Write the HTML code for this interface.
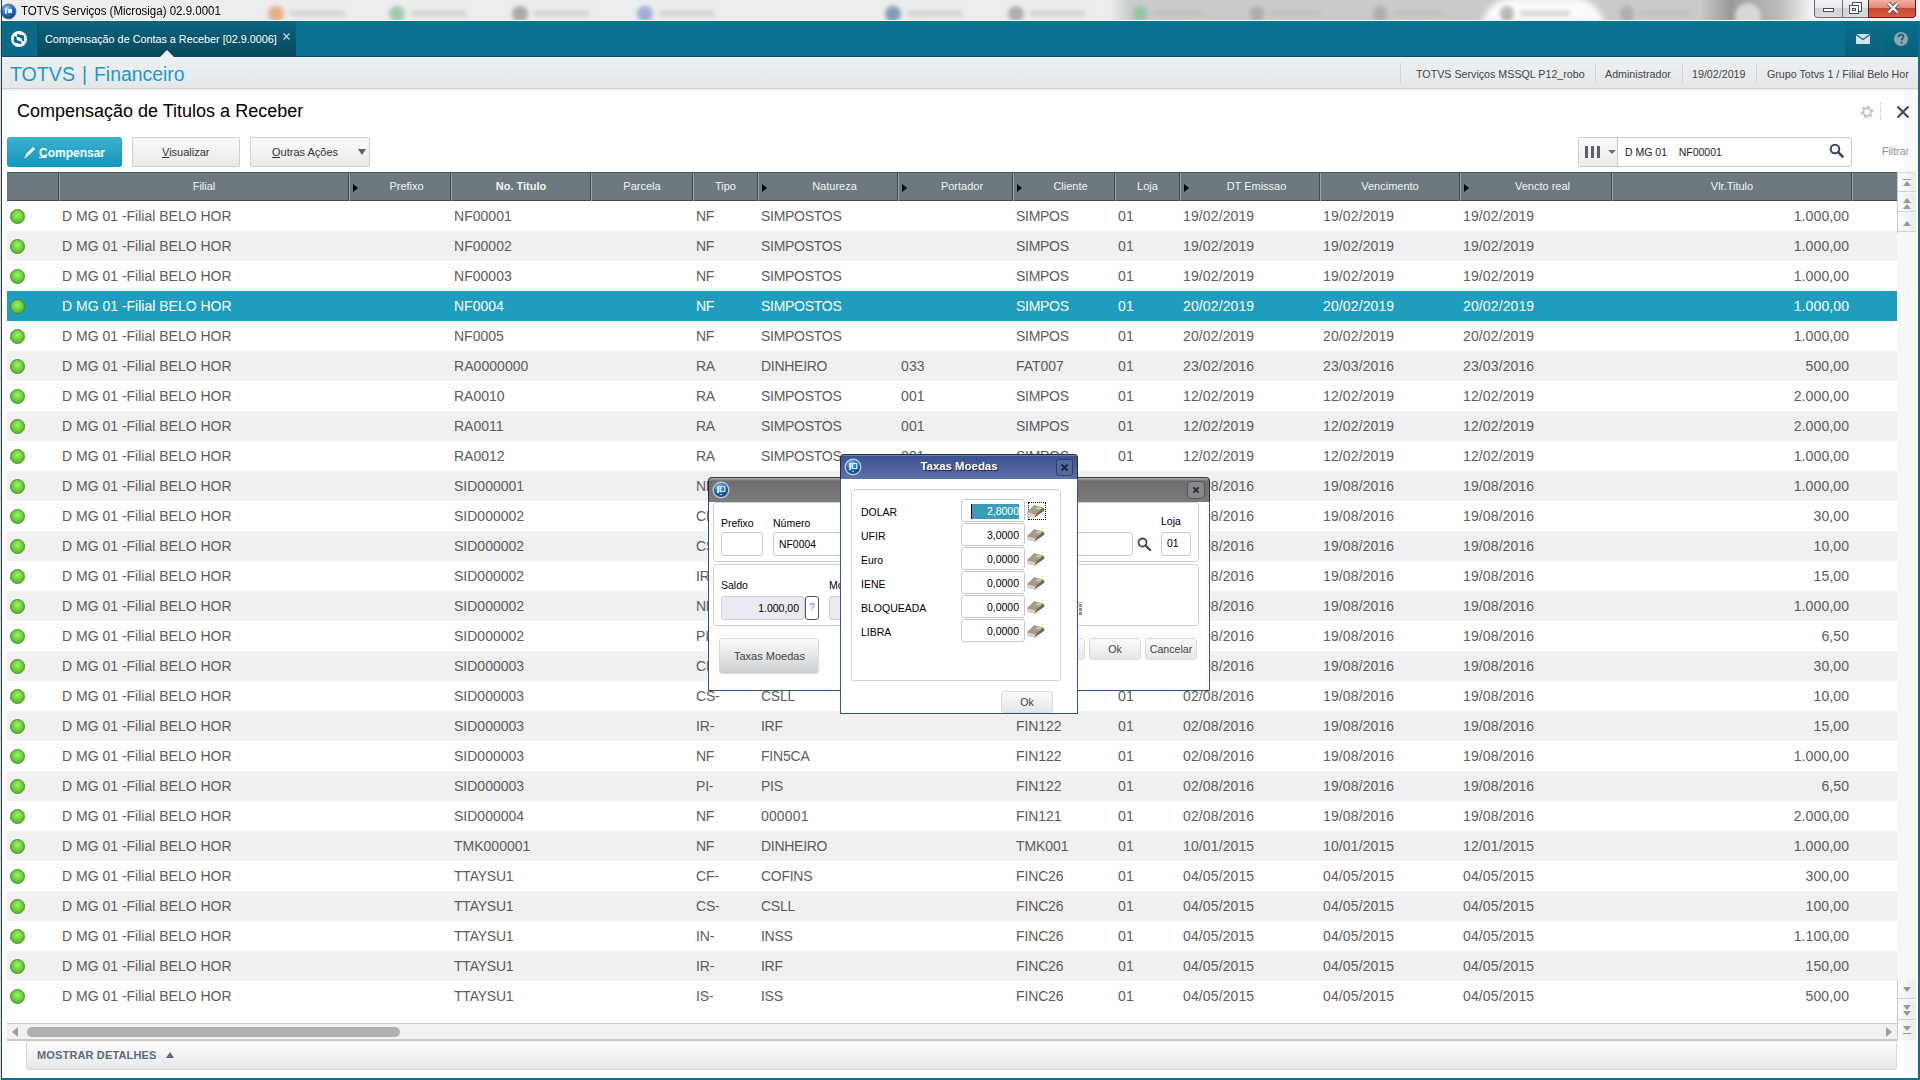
<!DOCTYPE html><html><head><meta charset="utf-8"><style>
*{margin:0;padding:0;box-sizing:border-box}
html,body{width:1920px;height:1080px;overflow:hidden;background:#fff;font-family:"Liberation Sans",sans-serif;position:relative}
.a{position:absolute}
.t{position:absolute;white-space:nowrap;line-height:1}
</style></head><body><div class="a" style="left:0;top:0;width:1920px;height:21px;background:linear-gradient(90deg,#ecedee 0,#ecedee 1110px,#c9cacc 1130px,#c9cacc 1700px,#9a9a9a 1730px,#bdbdbd 1780px,#f4f4f4 1812px);overflow:hidden">
<div class="a" style="left:1482px;top:-2px;width:122px;height:30px;border-radius:30px 30px 0 0;background:#fbfbfb;filter:blur(3px)"></div>
<div class="a" style="left:1735px;top:3px;width:26px;height:26px;border-radius:50%;background:#d8d8d8;filter:blur(2px)"></div>
<div class="a" style="left:268px;top:6px;width:16px;height:16px;border-radius:50%;background:#e8a070;filter:blur(2px);opacity:0.8"></div>
<div class="a" style="left:290px;top:11px;width:55px;height:5px;background:#d0d0d0;filter:blur(2px)"></div>
<div class="a" style="left:389px;top:6px;width:16px;height:16px;border-radius:50%;background:#8cc49a;filter:blur(2px);opacity:0.8"></div>
<div class="a" style="left:411px;top:11px;width:55px;height:5px;background:#d0d0d0;filter:blur(2px)"></div>
<div class="a" style="left:512px;top:6px;width:16px;height:16px;border-radius:50%;background:#9a9a9a;filter:blur(2px);opacity:0.8"></div>
<div class="a" style="left:534px;top:11px;width:55px;height:5px;background:#d0d0d0;filter:blur(2px)"></div>
<div class="a" style="left:637px;top:6px;width:16px;height:16px;border-radius:50%;background:#8aa0d0;filter:blur(2px);opacity:0.8"></div>
<div class="a" style="left:659px;top:11px;width:55px;height:5px;background:#d0d0d0;filter:blur(2px)"></div>
<div class="a" style="left:885px;top:6px;width:16px;height:16px;border-radius:50%;background:#6a88a8;filter:blur(2px);opacity:0.8"></div>
<div class="a" style="left:907px;top:11px;width:55px;height:5px;background:#d0d0d0;filter:blur(2px)"></div>
<div class="a" style="left:1008px;top:6px;width:16px;height:16px;border-radius:50%;background:#a0a0a0;filter:blur(2px);opacity:0.8"></div>
<div class="a" style="left:1030px;top:11px;width:55px;height:5px;background:#d0d0d0;filter:blur(2px)"></div>
<div class="a" style="left:1133px;top:6px;width:14px;height:16px;border-radius:50%;background:#8cc49a;filter:blur(2px);opacity:0.8"></div>
<div class="a" style="left:1153px;top:11px;width:50px;height:5px;background:#b8b8b8;filter:blur(2px);opacity:0.6"></div>
<div class="a" style="left:1250px;top:6px;width:14px;height:16px;border-radius:50%;background:#a8a8a8;filter:blur(2px);opacity:0.8"></div>
<div class="a" style="left:1270px;top:11px;width:50px;height:5px;background:#b8b8b8;filter:blur(2px);opacity:0.6"></div>
<div class="a" style="left:1373px;top:6px;width:14px;height:16px;border-radius:50%;background:#a8a8a8;filter:blur(2px);opacity:0.8"></div>
<div class="a" style="left:1393px;top:11px;width:50px;height:5px;background:#b8b8b8;filter:blur(2px);opacity:0.6"></div>
<div class="a" style="left:1500px;top:6px;width:14px;height:16px;border-radius:50%;background:#a8a8a8;filter:blur(2px);opacity:0.8"></div>
<div class="a" style="left:1520px;top:11px;width:50px;height:5px;background:#b8b8b8;filter:blur(2px);opacity:0.6"></div>
<div class="a" style="left:1620px;top:6px;width:14px;height:16px;border-radius:50%;background:#a8a8a8;filter:blur(2px);opacity:0.8"></div>
<div class="a" style="left:1640px;top:11px;width:50px;height:5px;background:#b8b8b8;filter:blur(2px);opacity:0.6"></div>
</div>
<div class="t" style="left:21px;top:5px;font-size:11.5px;color:#000;transform:scaleY(1.1);transform-origin:0 0">TOTVS Serviços (Microsiga) 02.9.0001</div>
<div class="a" style="left:0;top:20px;width:1920px;height:1px;background:#f8f8f8"></div>
<div class="a" style="left:0;top:21px;width:1920px;height:36px;background:#0b7190"></div>
<div class="a" style="left:2px;top:21px;width:35px;height:36px;background:#0a6a88"></div>
<div class="a" style="left:38px;top:21px;width:258px;height:36px;background:linear-gradient(#0b6580,#07475a)"></div>
<div class="t" style="left:45px;top:34px;font-size:10.8px;color:#fff">Compensação de Contas a Receber [02.9.0006]</div>
<svg class="a" style="left:283px;top:33px" width="7" height="7" viewBox="0 0 7 7"><path d="M0.5 0.5 L6.5 6.5 M6.5 0.5 L0.5 6.5" stroke="#c8d8de" stroke-width="1.2"/></svg>
<div class="a" style="left:2px;top:57px;width:1916px;height:32px;background:linear-gradient(#eef0f2,#e4e7ea);border-bottom:1px solid #c9ced2"></div>
<div class="a" style="left:2px;top:89px;width:1916px;height:2px;background:#f2f3f4"></div>
<div class="t" style="left:10px;top:65px;font-size:19.6px;color:#1a9bc7">TOTVS</div>
<div class="t" style="left:82px;top:65px;font-size:19.6px;color:#1a9bc7">|</div>
<div class="t" style="left:94px;top:65px;font-size:19.4px;color:#1a9bc7">Financeiro</div>
<div class="t" style="left:17px;top:102px;font-size:18px;color:#000">Compensação de Titulos a Receber</div>
<div class="a" style="left:7px;top:137px;width:115px;height:30px;border-radius:3px;background:linear-gradient(#3db0cf,#1397be)"></div>
<div class="t" style="left:39px;top:147px;font-size:12px;font-weight:bold;color:#fff">Compensar</div>
<div class="a" style="left:132px;top:137px;width:108px;height:30px;border-radius:2px;border:1px solid #cfcfcf;background:linear-gradient(#fafafa,#e9e9e9)"></div>
<div class="t" style="left:162px;top:147px;font-size:11px;color:#333">Visualizar</div>
<div class="a" style="left:250px;top:137px;width:120px;height:30px;border-radius:2px;border:1px solid #cfcfcf;background:linear-gradient(#fafafa,#e9e9e9)"></div>
<div class="t" style="left:272px;top:147px;font-size:11px;color:#333">Outras Ações</div>
<div class="a" style="left:7px;top:172px;width:1890px;height:29px;background:#6c7a80;border-top:1px solid #4a565b;border-bottom:1px solid #3e4a4f"></div>
<div class="a" style="left:58px;top:173px;width:1px;height:27px;background:#3e4a4f"></div>
<div class="a" style="left:59px;top:173px;width:1px;height:28px;background:#9aa5aa"></div>
<div class="a" style="left:348px;top:173px;width:1px;height:27px;background:#3e4a4f"></div>
<div class="a" style="left:349px;top:173px;width:1px;height:28px;background:#9aa5aa"></div>
<div class="a" style="left:450px;top:173px;width:1px;height:27px;background:#3e4a4f"></div>
<div class="a" style="left:451px;top:173px;width:1px;height:28px;background:#9aa5aa"></div>
<div class="a" style="left:590px;top:173px;width:1px;height:27px;background:#3e4a4f"></div>
<div class="a" style="left:591px;top:173px;width:1px;height:28px;background:#9aa5aa"></div>
<div class="a" style="left:692px;top:173px;width:1px;height:27px;background:#3e4a4f"></div>
<div class="a" style="left:693px;top:173px;width:1px;height:28px;background:#9aa5aa"></div>
<div class="a" style="left:757px;top:173px;width:1px;height:27px;background:#3e4a4f"></div>
<div class="a" style="left:758px;top:173px;width:1px;height:28px;background:#9aa5aa"></div>
<div class="a" style="left:897px;top:173px;width:1px;height:27px;background:#3e4a4f"></div>
<div class="a" style="left:898px;top:173px;width:1px;height:28px;background:#9aa5aa"></div>
<div class="a" style="left:1012px;top:173px;width:1px;height:27px;background:#3e4a4f"></div>
<div class="a" style="left:1013px;top:173px;width:1px;height:28px;background:#9aa5aa"></div>
<div class="a" style="left:1114px;top:173px;width:1px;height:27px;background:#3e4a4f"></div>
<div class="a" style="left:1115px;top:173px;width:1px;height:28px;background:#9aa5aa"></div>
<div class="a" style="left:1179px;top:173px;width:1px;height:27px;background:#3e4a4f"></div>
<div class="a" style="left:1180px;top:173px;width:1px;height:28px;background:#9aa5aa"></div>
<div class="a" style="left:1319px;top:173px;width:1px;height:27px;background:#3e4a4f"></div>
<div class="a" style="left:1320px;top:173px;width:1px;height:28px;background:#9aa5aa"></div>
<div class="a" style="left:1459px;top:173px;width:1px;height:27px;background:#3e4a4f"></div>
<div class="a" style="left:1460px;top:173px;width:1px;height:28px;background:#9aa5aa"></div>
<div class="a" style="left:1611px;top:173px;width:1px;height:27px;background:#3e4a4f"></div>
<div class="a" style="left:1612px;top:173px;width:1px;height:28px;background:#9aa5aa"></div>
<div class="a" style="left:1851px;top:173px;width:1px;height:27px;background:#3e4a4f"></div>
<div class="a" style="left:1852px;top:173px;width:1px;height:28px;background:#9aa5aa"></div>
<div class="t" style="left:60px;width:288px;top:181px;font-size:11px;font-weight:normal;color:#f2f2f2;text-align:center">Filial</div>
<div class="t" style="left:363px;width:87px;top:181px;font-size:11px;font-weight:normal;color:#f2f2f2;text-align:center">Prefixo</div>
<div class="a" style="left:353px;top:184px;width:0;height:0;border-top:4px solid transparent;border-bottom:4px solid transparent;border-left:5px solid #000"></div>
<div class="t" style="left:452px;width:138px;top:181px;font-size:11px;font-weight:bold;color:#f2f2f2;text-align:center">No. Titulo</div>
<div class="t" style="left:592px;width:100px;top:181px;font-size:11px;font-weight:normal;color:#f2f2f2;text-align:center">Parcela</div>
<div class="t" style="left:694px;width:63px;top:181px;font-size:11px;font-weight:normal;color:#f2f2f2;text-align:center">Tipo</div>
<div class="t" style="left:772px;width:125px;top:181px;font-size:11px;font-weight:normal;color:#f2f2f2;text-align:center">Natureza</div>
<div class="a" style="left:762px;top:184px;width:0;height:0;border-top:4px solid transparent;border-bottom:4px solid transparent;border-left:5px solid #000"></div>
<div class="t" style="left:912px;width:100px;top:181px;font-size:11px;font-weight:normal;color:#f2f2f2;text-align:center">Portador</div>
<div class="a" style="left:902px;top:184px;width:0;height:0;border-top:4px solid transparent;border-bottom:4px solid transparent;border-left:5px solid #000"></div>
<div class="t" style="left:1027px;width:87px;top:181px;font-size:11px;font-weight:normal;color:#f2f2f2;text-align:center">Cliente</div>
<div class="a" style="left:1017px;top:184px;width:0;height:0;border-top:4px solid transparent;border-bottom:4px solid transparent;border-left:5px solid #000"></div>
<div class="t" style="left:1116px;width:63px;top:181px;font-size:11px;font-weight:normal;color:#f2f2f2;text-align:center">Loja</div>
<div class="t" style="left:1194px;width:125px;top:181px;font-size:11px;font-weight:normal;color:#f2f2f2;text-align:center">DT Emissao</div>
<div class="a" style="left:1184px;top:184px;width:0;height:0;border-top:4px solid transparent;border-bottom:4px solid transparent;border-left:5px solid #000"></div>
<div class="t" style="left:1321px;width:138px;top:181px;font-size:11px;font-weight:normal;color:#f2f2f2;text-align:center">Vencimento</div>
<div class="t" style="left:1474px;width:137px;top:181px;font-size:11px;font-weight:normal;color:#f2f2f2;text-align:center">Vencto real</div>
<div class="a" style="left:1464px;top:184px;width:0;height:0;border-top:4px solid transparent;border-bottom:4px solid transparent;border-left:5px solid #000"></div>
<div class="t" style="left:1613px;width:238px;top:181px;font-size:11px;font-weight:normal;color:#f2f2f2;text-align:center">Vlr.Titulo</div>
<div class="a" style="left:7px;top:201px;width:1890px;height:30px;background:#ffffff"></div>
<div class="a" style="left:10px;top:209px;width:15px;height:15px;border-radius:50%;background:radial-gradient(circle at 50% 40%,#a8ee78 0,#72d83a 40%,#52b820 80%,#6ccc40 100%);border:1px solid #4f7f45"></div>
<div class="t" style="left:62px;top:209px;font-size:14px;color:#5c5c5c;letter-spacing:0.000px">D MG 01 -Filial BELO HOR</div>
<div class="t" style="left:454px;top:209px;font-size:14px;color:#5c5c5c;letter-spacing:0.027px">NF00001</div>
<div class="t" style="left:696px;top:209px;font-size:14px;color:#5c5c5c;letter-spacing:-0.280px">NF</div>
<div class="t" style="left:761px;top:209px;font-size:14px;color:#5c5c5c;letter-spacing:-0.280px">SIMPOSTOS</div>
<div class="t" style="left:1016px;top:209px;font-size:14px;color:#5c5c5c;letter-spacing:-0.280px">SIMPOS</div>
<div class="t" style="left:1118px;top:209px;font-size:14px;color:#5c5c5c;letter-spacing:0.150px">01</div>
<div class="t" style="left:1183px;top:209px;font-size:14px;color:#5c5c5c;letter-spacing:0.120px">19/02/2019</div>
<div class="t" style="left:1323px;top:209px;font-size:14px;color:#5c5c5c;letter-spacing:0.120px">19/02/2019</div>
<div class="t" style="left:1463px;top:209px;font-size:14px;color:#5c5c5c;letter-spacing:0.120px">19/02/2019</div>
<div class="t" style="right:70.888px;top:209px;font-size:14px;color:#5c5c5c;letter-spacing:0.112px">1.000,00</div>
<div class="a" style="left:7px;top:231px;width:1890px;height:30px;background:#f0f0f0"></div>
<div class="a" style="left:10px;top:239px;width:15px;height:15px;border-radius:50%;background:radial-gradient(circle at 50% 40%,#a8ee78 0,#72d83a 40%,#52b820 80%,#6ccc40 100%);border:1px solid #4f7f45"></div>
<div class="t" style="left:62px;top:239px;font-size:14px;color:#5c5c5c;letter-spacing:0.000px">D MG 01 -Filial BELO HOR</div>
<div class="t" style="left:454px;top:239px;font-size:14px;color:#5c5c5c;letter-spacing:0.027px">NF00002</div>
<div class="t" style="left:696px;top:239px;font-size:14px;color:#5c5c5c;letter-spacing:-0.280px">NF</div>
<div class="t" style="left:761px;top:239px;font-size:14px;color:#5c5c5c;letter-spacing:-0.280px">SIMPOSTOS</div>
<div class="t" style="left:1016px;top:239px;font-size:14px;color:#5c5c5c;letter-spacing:-0.280px">SIMPOS</div>
<div class="t" style="left:1118px;top:239px;font-size:14px;color:#5c5c5c;letter-spacing:0.150px">01</div>
<div class="t" style="left:1183px;top:239px;font-size:14px;color:#5c5c5c;letter-spacing:0.120px">19/02/2019</div>
<div class="t" style="left:1323px;top:239px;font-size:14px;color:#5c5c5c;letter-spacing:0.120px">19/02/2019</div>
<div class="t" style="left:1463px;top:239px;font-size:14px;color:#5c5c5c;letter-spacing:0.120px">19/02/2019</div>
<div class="t" style="right:70.888px;top:239px;font-size:14px;color:#5c5c5c;letter-spacing:0.112px">1.000,00</div>
<div class="a" style="left:7px;top:261px;width:1890px;height:30px;background:#ffffff"></div>
<div class="a" style="left:10px;top:269px;width:15px;height:15px;border-radius:50%;background:radial-gradient(circle at 50% 40%,#a8ee78 0,#72d83a 40%,#52b820 80%,#6ccc40 100%);border:1px solid #4f7f45"></div>
<div class="t" style="left:62px;top:269px;font-size:14px;color:#5c5c5c;letter-spacing:0.000px">D MG 01 -Filial BELO HOR</div>
<div class="t" style="left:454px;top:269px;font-size:14px;color:#5c5c5c;letter-spacing:0.027px">NF00003</div>
<div class="t" style="left:696px;top:269px;font-size:14px;color:#5c5c5c;letter-spacing:-0.280px">NF</div>
<div class="t" style="left:761px;top:269px;font-size:14px;color:#5c5c5c;letter-spacing:-0.280px">SIMPOSTOS</div>
<div class="t" style="left:1016px;top:269px;font-size:14px;color:#5c5c5c;letter-spacing:-0.280px">SIMPOS</div>
<div class="t" style="left:1118px;top:269px;font-size:14px;color:#5c5c5c;letter-spacing:0.150px">01</div>
<div class="t" style="left:1183px;top:269px;font-size:14px;color:#5c5c5c;letter-spacing:0.120px">19/02/2019</div>
<div class="t" style="left:1323px;top:269px;font-size:14px;color:#5c5c5c;letter-spacing:0.120px">19/02/2019</div>
<div class="t" style="left:1463px;top:269px;font-size:14px;color:#5c5c5c;letter-spacing:0.120px">19/02/2019</div>
<div class="t" style="right:70.888px;top:269px;font-size:14px;color:#5c5c5c;letter-spacing:0.112px">1.000,00</div>
<div class="a" style="left:7px;top:291px;width:1890px;height:30px;background:#1e9dbf"></div>
<div class="a" style="left:10px;top:299px;width:15px;height:15px;border-radius:50%;background:radial-gradient(circle at 50% 40%,#a8ee78 0,#72d83a 40%,#52b820 80%,#6ccc40 100%);border:1px solid #4f7f45"></div>
<div class="t" style="left:62px;top:299px;font-size:14px;color:#fff;letter-spacing:0.000px">D MG 01 -Filial BELO HOR</div>
<div class="t" style="left:454px;top:299px;font-size:14px;color:#fff;letter-spacing:0.007px">NF0004</div>
<div class="t" style="left:696px;top:299px;font-size:14px;color:#fff;letter-spacing:-0.280px">NF</div>
<div class="t" style="left:761px;top:299px;font-size:14px;color:#fff;letter-spacing:-0.280px">SIMPOSTOS</div>
<div class="t" style="left:1016px;top:299px;font-size:14px;color:#fff;letter-spacing:-0.280px">SIMPOS</div>
<div class="t" style="left:1118px;top:299px;font-size:14px;color:#fff;letter-spacing:0.150px">01</div>
<div class="t" style="left:1183px;top:299px;font-size:14px;color:#fff;letter-spacing:0.120px">20/02/2019</div>
<div class="t" style="left:1323px;top:299px;font-size:14px;color:#fff;letter-spacing:0.120px">20/02/2019</div>
<div class="t" style="left:1463px;top:299px;font-size:14px;color:#fff;letter-spacing:0.120px">20/02/2019</div>
<div class="t" style="right:70.888px;top:299px;font-size:14px;color:#fff;letter-spacing:0.112px">1.000,00</div>
<div class="a" style="left:7px;top:321px;width:1890px;height:30px;background:#ffffff"></div>
<div class="a" style="left:10px;top:329px;width:15px;height:15px;border-radius:50%;background:radial-gradient(circle at 50% 40%,#a8ee78 0,#72d83a 40%,#52b820 80%,#6ccc40 100%);border:1px solid #4f7f45"></div>
<div class="t" style="left:62px;top:329px;font-size:14px;color:#5c5c5c;letter-spacing:0.000px">D MG 01 -Filial BELO HOR</div>
<div class="t" style="left:454px;top:329px;font-size:14px;color:#5c5c5c;letter-spacing:0.007px">NF0005</div>
<div class="t" style="left:696px;top:329px;font-size:14px;color:#5c5c5c;letter-spacing:-0.280px">NF</div>
<div class="t" style="left:761px;top:329px;font-size:14px;color:#5c5c5c;letter-spacing:-0.280px">SIMPOSTOS</div>
<div class="t" style="left:1016px;top:329px;font-size:14px;color:#5c5c5c;letter-spacing:-0.280px">SIMPOS</div>
<div class="t" style="left:1118px;top:329px;font-size:14px;color:#5c5c5c;letter-spacing:0.150px">01</div>
<div class="t" style="left:1183px;top:329px;font-size:14px;color:#5c5c5c;letter-spacing:0.120px">20/02/2019</div>
<div class="t" style="left:1323px;top:329px;font-size:14px;color:#5c5c5c;letter-spacing:0.120px">20/02/2019</div>
<div class="t" style="left:1463px;top:329px;font-size:14px;color:#5c5c5c;letter-spacing:0.120px">20/02/2019</div>
<div class="t" style="right:70.888px;top:329px;font-size:14px;color:#5c5c5c;letter-spacing:0.112px">1.000,00</div>
<div class="a" style="left:7px;top:351px;width:1890px;height:30px;background:#f0f0f0"></div>
<div class="a" style="left:10px;top:359px;width:15px;height:15px;border-radius:50%;background:radial-gradient(circle at 50% 40%,#a8ee78 0,#72d83a 40%,#52b820 80%,#6ccc40 100%);border:1px solid #4f7f45"></div>
<div class="t" style="left:62px;top:359px;font-size:14px;color:#5c5c5c;letter-spacing:0.000px">D MG 01 -Filial BELO HOR</div>
<div class="t" style="left:454px;top:359px;font-size:14px;color:#5c5c5c;letter-spacing:0.054px">RA0000000</div>
<div class="t" style="left:696px;top:359px;font-size:14px;color:#5c5c5c;letter-spacing:-0.280px">RA</div>
<div class="t" style="left:761px;top:359px;font-size:14px;color:#5c5c5c;letter-spacing:-0.280px">DINHEIRO</div>
<div class="t" style="left:901px;top:359px;font-size:14px;color:#5c5c5c;letter-spacing:0.150px">033</div>
<div class="t" style="left:1016px;top:359px;font-size:14px;color:#5c5c5c;letter-spacing:-0.065px">FAT007</div>
<div class="t" style="left:1118px;top:359px;font-size:14px;color:#5c5c5c;letter-spacing:0.150px">01</div>
<div class="t" style="left:1183px;top:359px;font-size:14px;color:#5c5c5c;letter-spacing:0.120px">23/02/2016</div>
<div class="t" style="left:1323px;top:359px;font-size:14px;color:#5c5c5c;letter-spacing:0.120px">23/03/2016</div>
<div class="t" style="left:1463px;top:359px;font-size:14px;color:#5c5c5c;letter-spacing:0.120px">23/03/2016</div>
<div class="t" style="right:70.875px;top:359px;font-size:14px;color:#5c5c5c;letter-spacing:0.125px">500,00</div>
<div class="a" style="left:7px;top:381px;width:1890px;height:30px;background:#ffffff"></div>
<div class="a" style="left:10px;top:389px;width:15px;height:15px;border-radius:50%;background:radial-gradient(circle at 50% 40%,#a8ee78 0,#72d83a 40%,#52b820 80%,#6ccc40 100%);border:1px solid #4f7f45"></div>
<div class="t" style="left:62px;top:389px;font-size:14px;color:#5c5c5c;letter-spacing:0.000px">D MG 01 -Filial BELO HOR</div>
<div class="t" style="left:454px;top:389px;font-size:14px;color:#5c5c5c;letter-spacing:0.007px">RA0010</div>
<div class="t" style="left:696px;top:389px;font-size:14px;color:#5c5c5c;letter-spacing:-0.280px">RA</div>
<div class="t" style="left:761px;top:389px;font-size:14px;color:#5c5c5c;letter-spacing:-0.280px">SIMPOSTOS</div>
<div class="t" style="left:901px;top:389px;font-size:14px;color:#5c5c5c;letter-spacing:0.150px">001</div>
<div class="t" style="left:1016px;top:389px;font-size:14px;color:#5c5c5c;letter-spacing:-0.280px">SIMPOS</div>
<div class="t" style="left:1118px;top:389px;font-size:14px;color:#5c5c5c;letter-spacing:0.150px">01</div>
<div class="t" style="left:1183px;top:389px;font-size:14px;color:#5c5c5c;letter-spacing:0.120px">12/02/2019</div>
<div class="t" style="left:1323px;top:389px;font-size:14px;color:#5c5c5c;letter-spacing:0.120px">12/02/2019</div>
<div class="t" style="left:1463px;top:389px;font-size:14px;color:#5c5c5c;letter-spacing:0.120px">12/02/2019</div>
<div class="t" style="right:70.888px;top:389px;font-size:14px;color:#5c5c5c;letter-spacing:0.112px">2.000,00</div>
<div class="a" style="left:7px;top:411px;width:1890px;height:30px;background:#f0f0f0"></div>
<div class="a" style="left:10px;top:419px;width:15px;height:15px;border-radius:50%;background:radial-gradient(circle at 50% 40%,#a8ee78 0,#72d83a 40%,#52b820 80%,#6ccc40 100%);border:1px solid #4f7f45"></div>
<div class="t" style="left:62px;top:419px;font-size:14px;color:#5c5c5c;letter-spacing:0.000px">D MG 01 -Filial BELO HOR</div>
<div class="t" style="left:454px;top:419px;font-size:14px;color:#5c5c5c;letter-spacing:0.007px">RA0011</div>
<div class="t" style="left:696px;top:419px;font-size:14px;color:#5c5c5c;letter-spacing:-0.280px">RA</div>
<div class="t" style="left:761px;top:419px;font-size:14px;color:#5c5c5c;letter-spacing:-0.280px">SIMPOSTOS</div>
<div class="t" style="left:901px;top:419px;font-size:14px;color:#5c5c5c;letter-spacing:0.150px">001</div>
<div class="t" style="left:1016px;top:419px;font-size:14px;color:#5c5c5c;letter-spacing:-0.280px">SIMPOS</div>
<div class="t" style="left:1118px;top:419px;font-size:14px;color:#5c5c5c;letter-spacing:0.150px">01</div>
<div class="t" style="left:1183px;top:419px;font-size:14px;color:#5c5c5c;letter-spacing:0.120px">12/02/2019</div>
<div class="t" style="left:1323px;top:419px;font-size:14px;color:#5c5c5c;letter-spacing:0.120px">12/02/2019</div>
<div class="t" style="left:1463px;top:419px;font-size:14px;color:#5c5c5c;letter-spacing:0.120px">12/02/2019</div>
<div class="t" style="right:70.888px;top:419px;font-size:14px;color:#5c5c5c;letter-spacing:0.112px">2.000,00</div>
<div class="a" style="left:7px;top:441px;width:1890px;height:30px;background:#ffffff"></div>
<div class="a" style="left:10px;top:449px;width:15px;height:15px;border-radius:50%;background:radial-gradient(circle at 50% 40%,#a8ee78 0,#72d83a 40%,#52b820 80%,#6ccc40 100%);border:1px solid #4f7f45"></div>
<div class="t" style="left:62px;top:449px;font-size:14px;color:#5c5c5c;letter-spacing:0.000px">D MG 01 -Filial BELO HOR</div>
<div class="t" style="left:454px;top:449px;font-size:14px;color:#5c5c5c;letter-spacing:0.007px">RA0012</div>
<div class="t" style="left:696px;top:449px;font-size:14px;color:#5c5c5c;letter-spacing:-0.280px">RA</div>
<div class="t" style="left:761px;top:449px;font-size:14px;color:#5c5c5c;letter-spacing:-0.280px">SIMPOSTOS</div>
<div class="t" style="left:901px;top:449px;font-size:14px;color:#5c5c5c;letter-spacing:0.150px">001</div>
<div class="t" style="left:1016px;top:449px;font-size:14px;color:#5c5c5c;letter-spacing:-0.280px">SIMPOS</div>
<div class="t" style="left:1118px;top:449px;font-size:14px;color:#5c5c5c;letter-spacing:0.150px">01</div>
<div class="t" style="left:1183px;top:449px;font-size:14px;color:#5c5c5c;letter-spacing:0.120px">12/02/2019</div>
<div class="t" style="left:1323px;top:449px;font-size:14px;color:#5c5c5c;letter-spacing:0.120px">12/02/2019</div>
<div class="t" style="left:1463px;top:449px;font-size:14px;color:#5c5c5c;letter-spacing:0.120px">12/02/2019</div>
<div class="t" style="right:70.888px;top:449px;font-size:14px;color:#5c5c5c;letter-spacing:0.112px">1.000,00</div>
<div class="a" style="left:7px;top:471px;width:1890px;height:30px;background:#f0f0f0"></div>
<div class="a" style="left:10px;top:479px;width:15px;height:15px;border-radius:50%;background:radial-gradient(circle at 50% 40%,#a8ee78 0,#72d83a 40%,#52b820 80%,#6ccc40 100%);border:1px solid #4f7f45"></div>
<div class="t" style="left:62px;top:479px;font-size:14px;color:#5c5c5c;letter-spacing:0.000px">D MG 01 -Filial BELO HOR</div>
<div class="t" style="left:454px;top:479px;font-size:14px;color:#5c5c5c;letter-spacing:0.007px">SID000001</div>
<div class="t" style="left:696px;top:479px;font-size:14px;color:#5c5c5c;letter-spacing:-0.280px">NF</div>
<div class="t" style="left:761px;top:479px;font-size:14px;color:#5c5c5c;letter-spacing:-0.208px">FIN5CA</div>
<div class="t" style="left:1016px;top:479px;font-size:14px;color:#5c5c5c;letter-spacing:-0.065px">FIN122</div>
<div class="t" style="left:1118px;top:479px;font-size:14px;color:#5c5c5c;letter-spacing:0.150px">01</div>
<div class="t" style="left:1183px;top:479px;font-size:14px;color:#5c5c5c;letter-spacing:0.120px">02/08/2016</div>
<div class="t" style="left:1323px;top:479px;font-size:14px;color:#5c5c5c;letter-spacing:0.120px">19/08/2016</div>
<div class="t" style="left:1463px;top:479px;font-size:14px;color:#5c5c5c;letter-spacing:0.120px">19/08/2016</div>
<div class="t" style="right:70.888px;top:479px;font-size:14px;color:#5c5c5c;letter-spacing:0.112px">1.000,00</div>
<div class="a" style="left:7px;top:501px;width:1890px;height:30px;background:#ffffff"></div>
<div class="a" style="left:10px;top:509px;width:15px;height:15px;border-radius:50%;background:radial-gradient(circle at 50% 40%,#a8ee78 0,#72d83a 40%,#52b820 80%,#6ccc40 100%);border:1px solid #4f7f45"></div>
<div class="t" style="left:62px;top:509px;font-size:14px;color:#5c5c5c;letter-spacing:0.000px">D MG 01 -Filial BELO HOR</div>
<div class="t" style="left:454px;top:509px;font-size:14px;color:#5c5c5c;letter-spacing:0.007px">SID000002</div>
<div class="t" style="left:696px;top:509px;font-size:14px;color:#5c5c5c;letter-spacing:-0.187px">CF-</div>
<div class="t" style="left:761px;top:509px;font-size:14px;color:#5c5c5c;letter-spacing:-0.280px">COFINS</div>
<div class="t" style="left:1016px;top:509px;font-size:14px;color:#5c5c5c;letter-spacing:-0.065px">FIN122</div>
<div class="t" style="left:1118px;top:509px;font-size:14px;color:#5c5c5c;letter-spacing:0.150px">01</div>
<div class="t" style="left:1183px;top:509px;font-size:14px;color:#5c5c5c;letter-spacing:0.120px">02/08/2016</div>
<div class="t" style="left:1323px;top:509px;font-size:14px;color:#5c5c5c;letter-spacing:0.120px">19/08/2016</div>
<div class="t" style="left:1463px;top:509px;font-size:14px;color:#5c5c5c;letter-spacing:0.120px">19/08/2016</div>
<div class="t" style="right:70.880px;top:509px;font-size:14px;color:#5c5c5c;letter-spacing:0.120px">30,00</div>
<div class="a" style="left:7px;top:531px;width:1890px;height:30px;background:#f0f0f0"></div>
<div class="a" style="left:10px;top:539px;width:15px;height:15px;border-radius:50%;background:radial-gradient(circle at 50% 40%,#a8ee78 0,#72d83a 40%,#52b820 80%,#6ccc40 100%);border:1px solid #4f7f45"></div>
<div class="t" style="left:62px;top:539px;font-size:14px;color:#5c5c5c;letter-spacing:0.000px">D MG 01 -Filial BELO HOR</div>
<div class="t" style="left:454px;top:539px;font-size:14px;color:#5c5c5c;letter-spacing:0.007px">SID000002</div>
<div class="t" style="left:696px;top:539px;font-size:14px;color:#5c5c5c;letter-spacing:-0.187px">CS-</div>
<div class="t" style="left:761px;top:539px;font-size:14px;color:#5c5c5c;letter-spacing:-0.280px">CSLL</div>
<div class="t" style="left:1016px;top:539px;font-size:14px;color:#5c5c5c;letter-spacing:-0.065px">FIN122</div>
<div class="t" style="left:1118px;top:539px;font-size:14px;color:#5c5c5c;letter-spacing:0.150px">01</div>
<div class="t" style="left:1183px;top:539px;font-size:14px;color:#5c5c5c;letter-spacing:0.120px">02/08/2016</div>
<div class="t" style="left:1323px;top:539px;font-size:14px;color:#5c5c5c;letter-spacing:0.120px">19/08/2016</div>
<div class="t" style="left:1463px;top:539px;font-size:14px;color:#5c5c5c;letter-spacing:0.120px">19/08/2016</div>
<div class="t" style="right:70.880px;top:539px;font-size:14px;color:#5c5c5c;letter-spacing:0.120px">10,00</div>
<div class="a" style="left:7px;top:561px;width:1890px;height:30px;background:#ffffff"></div>
<div class="a" style="left:10px;top:569px;width:15px;height:15px;border-radius:50%;background:radial-gradient(circle at 50% 40%,#a8ee78 0,#72d83a 40%,#52b820 80%,#6ccc40 100%);border:1px solid #4f7f45"></div>
<div class="t" style="left:62px;top:569px;font-size:14px;color:#5c5c5c;letter-spacing:0.000px">D MG 01 -Filial BELO HOR</div>
<div class="t" style="left:454px;top:569px;font-size:14px;color:#5c5c5c;letter-spacing:0.007px">SID000002</div>
<div class="t" style="left:696px;top:569px;font-size:14px;color:#5c5c5c;letter-spacing:-0.187px">IR-</div>
<div class="t" style="left:761px;top:569px;font-size:14px;color:#5c5c5c;letter-spacing:-0.280px">IRF</div>
<div class="t" style="left:1016px;top:569px;font-size:14px;color:#5c5c5c;letter-spacing:-0.065px">FIN122</div>
<div class="t" style="left:1118px;top:569px;font-size:14px;color:#5c5c5c;letter-spacing:0.150px">01</div>
<div class="t" style="left:1183px;top:569px;font-size:14px;color:#5c5c5c;letter-spacing:0.120px">02/08/2016</div>
<div class="t" style="left:1323px;top:569px;font-size:14px;color:#5c5c5c;letter-spacing:0.120px">19/08/2016</div>
<div class="t" style="left:1463px;top:569px;font-size:14px;color:#5c5c5c;letter-spacing:0.120px">19/08/2016</div>
<div class="t" style="right:70.880px;top:569px;font-size:14px;color:#5c5c5c;letter-spacing:0.120px">15,00</div>
<div class="a" style="left:7px;top:591px;width:1890px;height:30px;background:#f0f0f0"></div>
<div class="a" style="left:10px;top:599px;width:15px;height:15px;border-radius:50%;background:radial-gradient(circle at 50% 40%,#a8ee78 0,#72d83a 40%,#52b820 80%,#6ccc40 100%);border:1px solid #4f7f45"></div>
<div class="t" style="left:62px;top:599px;font-size:14px;color:#5c5c5c;letter-spacing:0.000px">D MG 01 -Filial BELO HOR</div>
<div class="t" style="left:454px;top:599px;font-size:14px;color:#5c5c5c;letter-spacing:0.007px">SID000002</div>
<div class="t" style="left:696px;top:599px;font-size:14px;color:#5c5c5c;letter-spacing:-0.280px">NF</div>
<div class="t" style="left:761px;top:599px;font-size:14px;color:#5c5c5c;letter-spacing:-0.208px">FIN5CA</div>
<div class="t" style="left:1016px;top:599px;font-size:14px;color:#5c5c5c;letter-spacing:-0.065px">FIN122</div>
<div class="t" style="left:1118px;top:599px;font-size:14px;color:#5c5c5c;letter-spacing:0.150px">01</div>
<div class="t" style="left:1183px;top:599px;font-size:14px;color:#5c5c5c;letter-spacing:0.120px">02/08/2016</div>
<div class="t" style="left:1323px;top:599px;font-size:14px;color:#5c5c5c;letter-spacing:0.120px">19/08/2016</div>
<div class="t" style="left:1463px;top:599px;font-size:14px;color:#5c5c5c;letter-spacing:0.120px">19/08/2016</div>
<div class="t" style="right:70.888px;top:599px;font-size:14px;color:#5c5c5c;letter-spacing:0.112px">1.000,00</div>
<div class="a" style="left:7px;top:621px;width:1890px;height:30px;background:#ffffff"></div>
<div class="a" style="left:10px;top:629px;width:15px;height:15px;border-radius:50%;background:radial-gradient(circle at 50% 40%,#a8ee78 0,#72d83a 40%,#52b820 80%,#6ccc40 100%);border:1px solid #4f7f45"></div>
<div class="t" style="left:62px;top:629px;font-size:14px;color:#5c5c5c;letter-spacing:0.000px">D MG 01 -Filial BELO HOR</div>
<div class="t" style="left:454px;top:629px;font-size:14px;color:#5c5c5c;letter-spacing:0.007px">SID000002</div>
<div class="t" style="left:696px;top:629px;font-size:14px;color:#5c5c5c;letter-spacing:-0.187px">PI-</div>
<div class="t" style="left:761px;top:629px;font-size:14px;color:#5c5c5c;letter-spacing:-0.280px">PIS</div>
<div class="t" style="left:1016px;top:629px;font-size:14px;color:#5c5c5c;letter-spacing:-0.065px">FIN122</div>
<div class="t" style="left:1118px;top:629px;font-size:14px;color:#5c5c5c;letter-spacing:0.150px">01</div>
<div class="t" style="left:1183px;top:629px;font-size:14px;color:#5c5c5c;letter-spacing:0.120px">02/08/2016</div>
<div class="t" style="left:1323px;top:629px;font-size:14px;color:#5c5c5c;letter-spacing:0.120px">19/08/2016</div>
<div class="t" style="left:1463px;top:629px;font-size:14px;color:#5c5c5c;letter-spacing:0.120px">19/08/2016</div>
<div class="t" style="right:70.888px;top:629px;font-size:14px;color:#5c5c5c;letter-spacing:0.112px">6,50</div>
<div class="a" style="left:7px;top:651px;width:1890px;height:30px;background:#f0f0f0"></div>
<div class="a" style="left:10px;top:659px;width:15px;height:15px;border-radius:50%;background:radial-gradient(circle at 50% 40%,#a8ee78 0,#72d83a 40%,#52b820 80%,#6ccc40 100%);border:1px solid #4f7f45"></div>
<div class="t" style="left:62px;top:659px;font-size:14px;color:#5c5c5c;letter-spacing:0.000px">D MG 01 -Filial BELO HOR</div>
<div class="t" style="left:454px;top:659px;font-size:14px;color:#5c5c5c;letter-spacing:0.007px">SID000003</div>
<div class="t" style="left:696px;top:659px;font-size:14px;color:#5c5c5c;letter-spacing:-0.187px">CF-</div>
<div class="t" style="left:761px;top:659px;font-size:14px;color:#5c5c5c;letter-spacing:-0.280px">COFINS</div>
<div class="t" style="left:1016px;top:659px;font-size:14px;color:#5c5c5c;letter-spacing:-0.065px">FIN122</div>
<div class="t" style="left:1118px;top:659px;font-size:14px;color:#5c5c5c;letter-spacing:0.150px">01</div>
<div class="t" style="left:1183px;top:659px;font-size:14px;color:#5c5c5c;letter-spacing:0.120px">02/08/2016</div>
<div class="t" style="left:1323px;top:659px;font-size:14px;color:#5c5c5c;letter-spacing:0.120px">19/08/2016</div>
<div class="t" style="left:1463px;top:659px;font-size:14px;color:#5c5c5c;letter-spacing:0.120px">19/08/2016</div>
<div class="t" style="right:70.880px;top:659px;font-size:14px;color:#5c5c5c;letter-spacing:0.120px">30,00</div>
<div class="a" style="left:7px;top:681px;width:1890px;height:30px;background:#ffffff"></div>
<div class="a" style="left:10px;top:689px;width:15px;height:15px;border-radius:50%;background:radial-gradient(circle at 50% 40%,#a8ee78 0,#72d83a 40%,#52b820 80%,#6ccc40 100%);border:1px solid #4f7f45"></div>
<div class="t" style="left:62px;top:689px;font-size:14px;color:#5c5c5c;letter-spacing:0.000px">D MG 01 -Filial BELO HOR</div>
<div class="t" style="left:454px;top:689px;font-size:14px;color:#5c5c5c;letter-spacing:0.007px">SID000003</div>
<div class="t" style="left:696px;top:689px;font-size:14px;color:#5c5c5c;letter-spacing:-0.187px">CS-</div>
<div class="t" style="left:761px;top:689px;font-size:14px;color:#5c5c5c;letter-spacing:-0.280px">CSLL</div>
<div class="t" style="left:1016px;top:689px;font-size:14px;color:#5c5c5c;letter-spacing:-0.065px">FIN122</div>
<div class="t" style="left:1118px;top:689px;font-size:14px;color:#5c5c5c;letter-spacing:0.150px">01</div>
<div class="t" style="left:1183px;top:689px;font-size:14px;color:#5c5c5c;letter-spacing:0.120px">02/08/2016</div>
<div class="t" style="left:1323px;top:689px;font-size:14px;color:#5c5c5c;letter-spacing:0.120px">19/08/2016</div>
<div class="t" style="left:1463px;top:689px;font-size:14px;color:#5c5c5c;letter-spacing:0.120px">19/08/2016</div>
<div class="t" style="right:70.880px;top:689px;font-size:14px;color:#5c5c5c;letter-spacing:0.120px">10,00</div>
<div class="a" style="left:7px;top:711px;width:1890px;height:30px;background:#f0f0f0"></div>
<div class="a" style="left:10px;top:719px;width:15px;height:15px;border-radius:50%;background:radial-gradient(circle at 50% 40%,#a8ee78 0,#72d83a 40%,#52b820 80%,#6ccc40 100%);border:1px solid #4f7f45"></div>
<div class="t" style="left:62px;top:719px;font-size:14px;color:#5c5c5c;letter-spacing:0.000px">D MG 01 -Filial BELO HOR</div>
<div class="t" style="left:454px;top:719px;font-size:14px;color:#5c5c5c;letter-spacing:0.007px">SID000003</div>
<div class="t" style="left:696px;top:719px;font-size:14px;color:#5c5c5c;letter-spacing:-0.187px">IR-</div>
<div class="t" style="left:761px;top:719px;font-size:14px;color:#5c5c5c;letter-spacing:-0.280px">IRF</div>
<div class="t" style="left:1016px;top:719px;font-size:14px;color:#5c5c5c;letter-spacing:-0.065px">FIN122</div>
<div class="t" style="left:1118px;top:719px;font-size:14px;color:#5c5c5c;letter-spacing:0.150px">01</div>
<div class="t" style="left:1183px;top:719px;font-size:14px;color:#5c5c5c;letter-spacing:0.120px">02/08/2016</div>
<div class="t" style="left:1323px;top:719px;font-size:14px;color:#5c5c5c;letter-spacing:0.120px">19/08/2016</div>
<div class="t" style="left:1463px;top:719px;font-size:14px;color:#5c5c5c;letter-spacing:0.120px">19/08/2016</div>
<div class="t" style="right:70.880px;top:719px;font-size:14px;color:#5c5c5c;letter-spacing:0.120px">15,00</div>
<div class="a" style="left:7px;top:741px;width:1890px;height:30px;background:#ffffff"></div>
<div class="a" style="left:10px;top:749px;width:15px;height:15px;border-radius:50%;background:radial-gradient(circle at 50% 40%,#a8ee78 0,#72d83a 40%,#52b820 80%,#6ccc40 100%);border:1px solid #4f7f45"></div>
<div class="t" style="left:62px;top:749px;font-size:14px;color:#5c5c5c;letter-spacing:0.000px">D MG 01 -Filial BELO HOR</div>
<div class="t" style="left:454px;top:749px;font-size:14px;color:#5c5c5c;letter-spacing:0.007px">SID000003</div>
<div class="t" style="left:696px;top:749px;font-size:14px;color:#5c5c5c;letter-spacing:-0.280px">NF</div>
<div class="t" style="left:761px;top:749px;font-size:14px;color:#5c5c5c;letter-spacing:-0.208px">FIN5CA</div>
<div class="t" style="left:1016px;top:749px;font-size:14px;color:#5c5c5c;letter-spacing:-0.065px">FIN122</div>
<div class="t" style="left:1118px;top:749px;font-size:14px;color:#5c5c5c;letter-spacing:0.150px">01</div>
<div class="t" style="left:1183px;top:749px;font-size:14px;color:#5c5c5c;letter-spacing:0.120px">02/08/2016</div>
<div class="t" style="left:1323px;top:749px;font-size:14px;color:#5c5c5c;letter-spacing:0.120px">19/08/2016</div>
<div class="t" style="left:1463px;top:749px;font-size:14px;color:#5c5c5c;letter-spacing:0.120px">19/08/2016</div>
<div class="t" style="right:70.888px;top:749px;font-size:14px;color:#5c5c5c;letter-spacing:0.112px">1.000,00</div>
<div class="a" style="left:7px;top:771px;width:1890px;height:30px;background:#f0f0f0"></div>
<div class="a" style="left:10px;top:779px;width:15px;height:15px;border-radius:50%;background:radial-gradient(circle at 50% 40%,#a8ee78 0,#72d83a 40%,#52b820 80%,#6ccc40 100%);border:1px solid #4f7f45"></div>
<div class="t" style="left:62px;top:779px;font-size:14px;color:#5c5c5c;letter-spacing:0.000px">D MG 01 -Filial BELO HOR</div>
<div class="t" style="left:454px;top:779px;font-size:14px;color:#5c5c5c;letter-spacing:0.007px">SID000003</div>
<div class="t" style="left:696px;top:779px;font-size:14px;color:#5c5c5c;letter-spacing:-0.187px">PI-</div>
<div class="t" style="left:761px;top:779px;font-size:14px;color:#5c5c5c;letter-spacing:-0.280px">PIS</div>
<div class="t" style="left:1016px;top:779px;font-size:14px;color:#5c5c5c;letter-spacing:-0.065px">FIN122</div>
<div class="t" style="left:1118px;top:779px;font-size:14px;color:#5c5c5c;letter-spacing:0.150px">01</div>
<div class="t" style="left:1183px;top:779px;font-size:14px;color:#5c5c5c;letter-spacing:0.120px">02/08/2016</div>
<div class="t" style="left:1323px;top:779px;font-size:14px;color:#5c5c5c;letter-spacing:0.120px">19/08/2016</div>
<div class="t" style="left:1463px;top:779px;font-size:14px;color:#5c5c5c;letter-spacing:0.120px">19/08/2016</div>
<div class="t" style="right:70.888px;top:779px;font-size:14px;color:#5c5c5c;letter-spacing:0.112px">6,50</div>
<div class="a" style="left:7px;top:801px;width:1890px;height:30px;background:#ffffff"></div>
<div class="a" style="left:10px;top:809px;width:15px;height:15px;border-radius:50%;background:radial-gradient(circle at 50% 40%,#a8ee78 0,#72d83a 40%,#52b820 80%,#6ccc40 100%);border:1px solid #4f7f45"></div>
<div class="t" style="left:62px;top:809px;font-size:14px;color:#5c5c5c;letter-spacing:0.000px">D MG 01 -Filial BELO HOR</div>
<div class="t" style="left:454px;top:809px;font-size:14px;color:#5c5c5c;letter-spacing:0.007px">SID000004</div>
<div class="t" style="left:696px;top:809px;font-size:14px;color:#5c5c5c;letter-spacing:-0.280px">NF</div>
<div class="t" style="left:761px;top:809px;font-size:14px;color:#5c5c5c;letter-spacing:0.150px">000001</div>
<div class="t" style="left:1016px;top:809px;font-size:14px;color:#5c5c5c;letter-spacing:-0.065px">FIN121</div>
<div class="t" style="left:1118px;top:809px;font-size:14px;color:#5c5c5c;letter-spacing:0.150px">01</div>
<div class="t" style="left:1183px;top:809px;font-size:14px;color:#5c5c5c;letter-spacing:0.120px">02/08/2016</div>
<div class="t" style="left:1323px;top:809px;font-size:14px;color:#5c5c5c;letter-spacing:0.120px">19/08/2016</div>
<div class="t" style="left:1463px;top:809px;font-size:14px;color:#5c5c5c;letter-spacing:0.120px">19/08/2016</div>
<div class="t" style="right:70.888px;top:809px;font-size:14px;color:#5c5c5c;letter-spacing:0.112px">2.000,00</div>
<div class="a" style="left:7px;top:831px;width:1890px;height:30px;background:#f0f0f0"></div>
<div class="a" style="left:10px;top:839px;width:15px;height:15px;border-radius:50%;background:radial-gradient(circle at 50% 40%,#a8ee78 0,#72d83a 40%,#52b820 80%,#6ccc40 100%);border:1px solid #4f7f45"></div>
<div class="t" style="left:62px;top:839px;font-size:14px;color:#5c5c5c;letter-spacing:0.000px">D MG 01 -Filial BELO HOR</div>
<div class="t" style="left:454px;top:839px;font-size:14px;color:#5c5c5c;letter-spacing:0.007px">TMK000001</div>
<div class="t" style="left:696px;top:839px;font-size:14px;color:#5c5c5c;letter-spacing:-0.280px">NF</div>
<div class="t" style="left:761px;top:839px;font-size:14px;color:#5c5c5c;letter-spacing:-0.280px">DINHEIRO</div>
<div class="t" style="left:1016px;top:839px;font-size:14px;color:#5c5c5c;letter-spacing:-0.065px">TMK001</div>
<div class="t" style="left:1118px;top:839px;font-size:14px;color:#5c5c5c;letter-spacing:0.150px">01</div>
<div class="t" style="left:1183px;top:839px;font-size:14px;color:#5c5c5c;letter-spacing:0.120px">10/01/2015</div>
<div class="t" style="left:1323px;top:839px;font-size:14px;color:#5c5c5c;letter-spacing:0.120px">10/01/2015</div>
<div class="t" style="left:1463px;top:839px;font-size:14px;color:#5c5c5c;letter-spacing:0.120px">12/01/2015</div>
<div class="t" style="right:70.888px;top:839px;font-size:14px;color:#5c5c5c;letter-spacing:0.112px">1.000,00</div>
<div class="a" style="left:7px;top:861px;width:1890px;height:30px;background:#ffffff"></div>
<div class="a" style="left:10px;top:869px;width:15px;height:15px;border-radius:50%;background:radial-gradient(circle at 50% 40%,#a8ee78 0,#72d83a 40%,#52b820 80%,#6ccc40 100%);border:1px solid #4f7f45"></div>
<div class="t" style="left:62px;top:869px;font-size:14px;color:#5c5c5c;letter-spacing:0.000px">D MG 01 -Filial BELO HOR</div>
<div class="t" style="left:454px;top:869px;font-size:14px;color:#5c5c5c;letter-spacing:-0.219px">TTAYSU1</div>
<div class="t" style="left:696px;top:869px;font-size:14px;color:#5c5c5c;letter-spacing:-0.187px">CF-</div>
<div class="t" style="left:761px;top:869px;font-size:14px;color:#5c5c5c;letter-spacing:-0.280px">COFINS</div>
<div class="t" style="left:1016px;top:869px;font-size:14px;color:#5c5c5c;letter-spacing:-0.137px">FINC26</div>
<div class="t" style="left:1118px;top:869px;font-size:14px;color:#5c5c5c;letter-spacing:0.150px">01</div>
<div class="t" style="left:1183px;top:869px;font-size:14px;color:#5c5c5c;letter-spacing:0.120px">04/05/2015</div>
<div class="t" style="left:1323px;top:869px;font-size:14px;color:#5c5c5c;letter-spacing:0.120px">04/05/2015</div>
<div class="t" style="left:1463px;top:869px;font-size:14px;color:#5c5c5c;letter-spacing:0.120px">04/05/2015</div>
<div class="t" style="right:70.875px;top:869px;font-size:14px;color:#5c5c5c;letter-spacing:0.125px">300,00</div>
<div class="a" style="left:7px;top:891px;width:1890px;height:30px;background:#f0f0f0"></div>
<div class="a" style="left:10px;top:899px;width:15px;height:15px;border-radius:50%;background:radial-gradient(circle at 50% 40%,#a8ee78 0,#72d83a 40%,#52b820 80%,#6ccc40 100%);border:1px solid #4f7f45"></div>
<div class="t" style="left:62px;top:899px;font-size:14px;color:#5c5c5c;letter-spacing:0.000px">D MG 01 -Filial BELO HOR</div>
<div class="t" style="left:454px;top:899px;font-size:14px;color:#5c5c5c;letter-spacing:-0.219px">TTAYSU1</div>
<div class="t" style="left:696px;top:899px;font-size:14px;color:#5c5c5c;letter-spacing:-0.187px">CS-</div>
<div class="t" style="left:761px;top:899px;font-size:14px;color:#5c5c5c;letter-spacing:-0.280px">CSLL</div>
<div class="t" style="left:1016px;top:899px;font-size:14px;color:#5c5c5c;letter-spacing:-0.137px">FINC26</div>
<div class="t" style="left:1118px;top:899px;font-size:14px;color:#5c5c5c;letter-spacing:0.150px">01</div>
<div class="t" style="left:1183px;top:899px;font-size:14px;color:#5c5c5c;letter-spacing:0.120px">04/05/2015</div>
<div class="t" style="left:1323px;top:899px;font-size:14px;color:#5c5c5c;letter-spacing:0.120px">04/05/2015</div>
<div class="t" style="left:1463px;top:899px;font-size:14px;color:#5c5c5c;letter-spacing:0.120px">04/05/2015</div>
<div class="t" style="right:70.875px;top:899px;font-size:14px;color:#5c5c5c;letter-spacing:0.125px">100,00</div>
<div class="a" style="left:7px;top:921px;width:1890px;height:30px;background:#ffffff"></div>
<div class="a" style="left:10px;top:929px;width:15px;height:15px;border-radius:50%;background:radial-gradient(circle at 50% 40%,#a8ee78 0,#72d83a 40%,#52b820 80%,#6ccc40 100%);border:1px solid #4f7f45"></div>
<div class="t" style="left:62px;top:929px;font-size:14px;color:#5c5c5c;letter-spacing:0.000px">D MG 01 -Filial BELO HOR</div>
<div class="t" style="left:454px;top:929px;font-size:14px;color:#5c5c5c;letter-spacing:-0.219px">TTAYSU1</div>
<div class="t" style="left:696px;top:929px;font-size:14px;color:#5c5c5c;letter-spacing:-0.187px">IN-</div>
<div class="t" style="left:761px;top:929px;font-size:14px;color:#5c5c5c;letter-spacing:-0.280px">INSS</div>
<div class="t" style="left:1016px;top:929px;font-size:14px;color:#5c5c5c;letter-spacing:-0.137px">FINC26</div>
<div class="t" style="left:1118px;top:929px;font-size:14px;color:#5c5c5c;letter-spacing:0.150px">01</div>
<div class="t" style="left:1183px;top:929px;font-size:14px;color:#5c5c5c;letter-spacing:0.120px">04/05/2015</div>
<div class="t" style="left:1323px;top:929px;font-size:14px;color:#5c5c5c;letter-spacing:0.120px">04/05/2015</div>
<div class="t" style="left:1463px;top:929px;font-size:14px;color:#5c5c5c;letter-spacing:0.120px">04/05/2015</div>
<div class="t" style="right:70.888px;top:929px;font-size:14px;color:#5c5c5c;letter-spacing:0.112px">1.100,00</div>
<div class="a" style="left:7px;top:951px;width:1890px;height:30px;background:#f0f0f0"></div>
<div class="a" style="left:10px;top:959px;width:15px;height:15px;border-radius:50%;background:radial-gradient(circle at 50% 40%,#a8ee78 0,#72d83a 40%,#52b820 80%,#6ccc40 100%);border:1px solid #4f7f45"></div>
<div class="t" style="left:62px;top:959px;font-size:14px;color:#5c5c5c;letter-spacing:0.000px">D MG 01 -Filial BELO HOR</div>
<div class="t" style="left:454px;top:959px;font-size:14px;color:#5c5c5c;letter-spacing:-0.219px">TTAYSU1</div>
<div class="t" style="left:696px;top:959px;font-size:14px;color:#5c5c5c;letter-spacing:-0.187px">IR-</div>
<div class="t" style="left:761px;top:959px;font-size:14px;color:#5c5c5c;letter-spacing:-0.280px">IRF</div>
<div class="t" style="left:1016px;top:959px;font-size:14px;color:#5c5c5c;letter-spacing:-0.137px">FINC26</div>
<div class="t" style="left:1118px;top:959px;font-size:14px;color:#5c5c5c;letter-spacing:0.150px">01</div>
<div class="t" style="left:1183px;top:959px;font-size:14px;color:#5c5c5c;letter-spacing:0.120px">04/05/2015</div>
<div class="t" style="left:1323px;top:959px;font-size:14px;color:#5c5c5c;letter-spacing:0.120px">04/05/2015</div>
<div class="t" style="left:1463px;top:959px;font-size:14px;color:#5c5c5c;letter-spacing:0.120px">04/05/2015</div>
<div class="t" style="right:70.875px;top:959px;font-size:14px;color:#5c5c5c;letter-spacing:0.125px">150,00</div>
<div class="a" style="left:7px;top:981px;width:1890px;height:30px;background:#ffffff"></div>
<div class="a" style="left:10px;top:989px;width:15px;height:15px;border-radius:50%;background:radial-gradient(circle at 50% 40%,#a8ee78 0,#72d83a 40%,#52b820 80%,#6ccc40 100%);border:1px solid #4f7f45"></div>
<div class="t" style="left:62px;top:989px;font-size:14px;color:#5c5c5c;letter-spacing:0.000px">D MG 01 -Filial BELO HOR</div>
<div class="t" style="left:454px;top:989px;font-size:14px;color:#5c5c5c;letter-spacing:-0.219px">TTAYSU1</div>
<div class="t" style="left:696px;top:989px;font-size:14px;color:#5c5c5c;letter-spacing:-0.187px">IS-</div>
<div class="t" style="left:761px;top:989px;font-size:14px;color:#5c5c5c;letter-spacing:-0.280px">ISS</div>
<div class="t" style="left:1016px;top:989px;font-size:14px;color:#5c5c5c;letter-spacing:-0.137px">FINC26</div>
<div class="t" style="left:1118px;top:989px;font-size:14px;color:#5c5c5c;letter-spacing:0.150px">01</div>
<div class="t" style="left:1183px;top:989px;font-size:14px;color:#5c5c5c;letter-spacing:0.120px">04/05/2015</div>
<div class="t" style="left:1323px;top:989px;font-size:14px;color:#5c5c5c;letter-spacing:0.120px">04/05/2015</div>
<div class="t" style="left:1463px;top:989px;font-size:14px;color:#5c5c5c;letter-spacing:0.120px">04/05/2015</div>
<div class="t" style="right:70.875px;top:989px;font-size:14px;color:#5c5c5c;letter-spacing:0.125px">500,00</div>
<div class="a" style="left:2px;top:56px;width:1916px;height:1px;background:#0a4f63"></div>
<div class="a" style="left:37px;top:21px;width:1px;height:36px;background:#0a5a72"></div>
<svg class="a" style="left:11px;top:31px" width="16" height="16" viewBox="0 0 16 16"><circle cx="8" cy="8" r="8" fill="#fff"/><path d="M6 3.1 L13 4.6 L13.3 10.6 L11.3 10.1 L10.4 7.2 L6 5.8 Z" fill="#0a6a88"/><path d="M2.9 5.3 L5.5 5.5 L5.8 9.1 L10.4 10.6 L10.1 13.3 L3.4 11.6 L2.7 10.8 Z" fill="#0a6a88"/></svg>
<div class="a" style="left:160px;top:50px;width:0;height:0;border-left:7px solid transparent;border-right:7px solid transparent;border-bottom:7px solid #eef0f2"></div>
<div class="a" style="left:1845px;top:21px;width:36px;height:35px;background:linear-gradient(#0a6e8c,#07617b)"></div>
<div class="a" style="left:1881px;top:21px;width:1px;height:35px;background:#3f5a63"></div>
<div class="a" style="left:1882px;top:21px;width:36px;height:35px;background:linear-gradient(#0a6e8c,#07617b)"></div>
<svg class="a" style="left:1855px;top:33px" width="16" height="12" viewBox="0 0 16 12"><rect x="1" y="1" width="14" height="10" rx="1" fill="#d8e2e8"/><path d="M1 1.5 L8 6.5 L15 1.5" fill="none" stroke="#0a6a88" stroke-width="1.3"/></svg>
<svg class="a" style="left:1893px;top:31px" width="16" height="16" viewBox="0 0 16 16"><circle cx="8" cy="8" r="7" fill="#8fa4ae"/><path d="M5.6 6.1 C5.6 4.4 6.8 3.6 8.1 3.6 C9.5 3.6 10.5 4.5 10.5 5.7 C10.5 7.2 8.6 7.4 8.6 9.2" fill="none" stroke="#0a6580" stroke-width="1.7"/><rect x="7.7" y="10.6" width="1.8" height="1.8" fill="#0a6580"/></svg>
<div class="a" style="left:1400px;top:63px;width:1px;height:20px;background:#d0d4d8"></div>
<div class="a" style="left:1595px;top:63px;width:1px;height:20px;background:#d0d4d8"></div>
<div class="a" style="left:1682px;top:63px;width:1px;height:20px;background:#d0d4d8"></div>
<div class="a" style="left:1756px;top:63px;width:1px;height:20px;background:#d0d4d8"></div>
<div class="t" style="left:1416px;top:69px;font-size:10.7px;color:#444">TOTVS Serviços MSSQL P12_robo</div>
<div class="t" style="left:1605px;top:69px;font-size:10.7px;color:#444">Administrador</div>
<div class="t" style="left:1692px;top:69px;font-size:10.7px;color:#444">19/02/2019</div>
<div class="t" style="left:1767px;top:69px;font-size:10.7px;color:#444">Grupo Totvs 1 / Filial Belo Hor</div>
<svg class="a" style="left:1860px;top:105px" width="14" height="14" viewBox="0 0 14 14"><g fill="#c2c5c9" transform="rotate(15 7 7)"><circle cx="7" cy="7" r="4.7"/><rect x="5.5" y="0.8" width="3" height="12.4" rx="0.8"/><rect x="5.5" y="0.8" width="3" height="12.4" rx="0.8" transform="rotate(60 7 7)"/><rect x="5.5" y="0.8" width="3" height="12.4" rx="0.8" transform="rotate(120 7 7)"/></g><circle cx="7" cy="7" r="2.8" fill="#fff"/></svg>
<div class="a" style="left:1880px;top:103px;width:1px;height:17px;border-left:1px dotted #b8bcc0"></div>
<svg class="a" style="left:1896px;top:105px" width="14" height="14" viewBox="0 0 14 14"><path d="M1.5 1.5 L12.5 12.5 M12.5 1.5 L1.5 12.5" stroke="#3c4a5c" stroke-width="2.2"/></svg>
<div class="a" style="left:1578px;top:137px;width:274px;height:30px;border:1px solid #c8c8c8;border-radius:3px;background:#fff"></div>
<div class="a" style="left:1579px;top:138px;width:39px;height:28px;border-right:1px solid #c8c8c8;background:linear-gradient(#fafafa,#ececec);border-radius:2px 0 0 2px"></div>
<div class="a" style="left:1585px;top:146px;width:3px;height:12px;background:#5a6270"></div>
<div class="a" style="left:1591px;top:146px;width:3px;height:12px;background:#5a6270"></div>
<div class="a" style="left:1597px;top:146px;width:3px;height:12px;background:#5a6270"></div>
<div class="a" style="left:1608px;top:150px;width:0;height:0;border-left:4px solid transparent;border-right:4px solid transparent;border-top:4px solid #6a7280"></div>
<div class="t" style="left:1625px;top:147px;font-size:10.5px;color:#222;white-space:pre">D MG 01    NF00001</div>
<svg class="a" style="left:1829px;top:143px" width="15" height="15" viewBox="0 0 15 15"><circle cx="6" cy="6" r="4.3" fill="none" stroke="#3c4a5c" stroke-width="2"/><path d="M9.2 9.2 L13.5 13.5" stroke="#3c4a5c" stroke-width="2.6" stroke-linecap="round"/></svg>
<div class="t" style="left:1882px;top:146px;font-size:10.6px;color:#8a8f96">Filtrar</div>
<svg class="a" style="left:23px;top:145px" width="13" height="14" viewBox="0 0 13 14"><path d="M2 12 L3 9 L10 2 L12 4 L5 11 Z" fill="#fff"/><path d="M1.5 12.5 L3.5 12" stroke="#fff" stroke-width="1"/></svg>
<div class="a" style="left:39px;top:157px;width:8px;height:1px;background:#fff"></div>
<div class="a" style="left:162px;top:157px;width:7px;height:1px;background:#333"></div>
<div class="a" style="left:272px;top:157px;width:8px;height:1px;background:#333"></div>
<div class="a" style="left:358px;top:149px;width:0;height:0;border-left:4.5px solid transparent;border-right:4.5px solid transparent;border-top:6px solid #5a6270"></div>
<div class="a" style="left:1897px;top:172px;width:19px;height:868px;background:#f7f7f9"></div>
<div class="a" style="left:1897px;top:172px;width:1px;height:61px;background:#c8cacc"></div>
<div class="a" style="left:1897px;top:172px;width:19px;height:1px;background:#d8dadc"></div>
<div class="a" style="left:1897px;top:979px;width:1px;height:61px;background:#c8cacc"></div>
<div class="a" style="left:1898px;top:173px;width:18px;height:19px;background:linear-gradient(90deg,#fafbfc,#e9ebee);border-bottom:1px solid #d0d3d6"></div>
<div class="a" style="left:1903px;top:179px;width:8px;height:1px;background:#999"></div>
<div class="a" style="left:1903px;top:181px;width:0;height:0;border-left:4px solid transparent;border-right:4px solid transparent;border-bottom:5px solid #999"></div>
<div class="a" style="left:1898px;top:193px;width:18px;height:19px;background:linear-gradient(90deg,#fafbfc,#e9ebee);border-bottom:1px solid #d0d3d6"></div>
<div class="a" style="left:1903px;top:198px;width:0;height:0;border-left:4px solid transparent;border-right:4px solid transparent;border-bottom:5px solid #999"></div>
<div class="a" style="left:1903px;top:204px;width:0;height:0;border-left:4px solid transparent;border-right:4px solid transparent;border-bottom:5px solid #999"></div>
<div class="a" style="left:1898px;top:213px;width:18px;height:19px;background:linear-gradient(90deg,#fafbfc,#e9ebee);border-bottom:1px solid #d0d3d6"></div>
<div class="a" style="left:1903px;top:221px;width:0;height:0;border-left:4px solid transparent;border-right:4px solid transparent;border-bottom:5px solid #999"></div>
<div class="a" style="left:1898px;top:980px;width:18px;height:19px;background:linear-gradient(90deg,#fafbfc,#e9ebee);border-bottom:1px solid #d0d3d6"></div>
<div class="a" style="left:1903px;top:987px;width:0;height:0;border-left:4px solid transparent;border-right:4px solid transparent;border-top:5px solid #999"></div>
<div class="a" style="left:1898px;top:1001px;width:18px;height:19px;background:linear-gradient(90deg,#fafbfc,#e9ebee);border-bottom:1px solid #d0d3d6"></div>
<div class="a" style="left:1903px;top:1005px;width:0;height:0;border-left:4px solid transparent;border-right:4px solid transparent;border-top:5px solid #999"></div>
<div class="a" style="left:1903px;top:1011px;width:0;height:0;border-left:4px solid transparent;border-right:4px solid transparent;border-top:5px solid #999"></div>
<div class="a" style="left:1898px;top:1021px;width:18px;height:19px;background:linear-gradient(90deg,#fafbfc,#e9ebee);"></div>
<div class="a" style="left:1903px;top:1026px;width:0;height:0;border-left:4px solid transparent;border-right:4px solid transparent;border-top:5px solid #999"></div>
<div class="a" style="left:1903px;top:1033px;width:8px;height:1px;background:#999"></div>
<div class="a" style="left:7px;top:1023px;width:1891px;height:18px;background:#f1f1f1;border-top:1px solid #c8cccf;border-bottom:2px solid #c8cccf;border-right:1px solid #c8cccf"></div>
<div class="a" style="left:12px;top:1027px;width:0;height:0;border-top:5px solid transparent;border-bottom:5px solid transparent;border-right:6px solid #a0a0a0"></div>
<div class="a" style="left:1886px;top:1027px;width:0;height:0;border-top:5px solid transparent;border-bottom:5px solid transparent;border-left:6px solid #a0a0a0"></div>
<div class="a" style="left:27px;top:1027px;width:373px;height:10px;border-radius:5px;background:#b0b0b0"></div>
<div class="a" style="left:26px;top:1041px;width:1871px;height:29px;border:1px solid #d6d6d6;border-top-color:#ececec;border-radius:3px;background:linear-gradient(#fcfcfc,#e8e8e8)"></div>
<div class="t" style="left:37px;top:1050px;font-size:11px;font-weight:bold;color:#5d6a7c;letter-spacing:0.15px">MOSTRAR DETALHES</div>
<div class="a" style="left:166px;top:1052px;width:0;height:0;border-left:4px solid transparent;border-right:4px solid transparent;border-bottom:6px solid #5d6a7c"></div>
<div class="a" style="left:1814px;top:0;width:29px;height:18px;border:1px solid #6a6e78;border-top:none;border-radius:0 0 0 4px;background:linear-gradient(#f4f4f6 0,#e8e9ec 45%,#cfd2d8 50%,#d8dbe0 100%)"></div>
<div class="a" style="left:1842px;top:0;width:27px;height:18px;border:1px solid #6a6e78;border-top:none;background:linear-gradient(#f4f4f6 0,#e8e9ec 45%,#cfd2d8 50%,#d8dbe0 100%)"></div>
<div class="a" style="left:1868px;top:0;width:48px;height:18px;border:1px solid #6a1a10;border-top:none;border-radius:0 0 4px 0;background:linear-gradient(#f0b0a0 0,#e08a78 45%,#c84a30 50%,#d86040 100%)"></div>
<div class="a" style="left:1823px;top:8px;width:11px;height:4px;border:1px solid #4a4e60;background:#fff"></div>
<div class="a" style="left:1852px;top:2px;width:10px;height:10px;border:1px solid #4a4e60;background:#fff"></div>
<div class="a" style="left:1849px;top:5px;width:10px;height:9px;border:1px solid #4a4e60;background:#fff"></div>
<div class="a" style="left:1852px;top:8px;width:4px;height:3px;border:1px solid #4a4e60"></div>
<svg class="a" style="left:1886px;top:2px" width="14" height="12" viewBox="0 0 14 12"><path d="M2.5 1.5 L11.5 10.5 M11.5 1.5 L2.5 10.5" stroke="#4a4e60" stroke-width="4"/><path d="M2.5 1.5 L11.5 10.5 M11.5 1.5 L2.5 10.5" stroke="#fff" stroke-width="2.4"/></svg>
<svg class="a" style="left:0px;top:3px" width="17" height="17" viewBox="0 0 17 17"><defs><radialGradient id="gb" cx="40%" cy="30%" r="70%"><stop offset="0" stop-color="#9fd0ff"/><stop offset="0.5" stop-color="#2a78d0"/><stop offset="1" stop-color="#0a3a80"/></radialGradient></defs><circle cx="8.5" cy="8.5" r="7.5" fill="url(#gb)" stroke="#6a7a90" stroke-width="1"/><path d="M5 5 L6.5 5 L6.5 11 L5 11 Z M8 6 L12 6 L12 10 L8 10 Z" fill="#e8f4ff"/></svg>
<div class="a" style="left:708px;top:500px;width:502px;height:191px;background:#fff;border:1px solid #2c5590;border-top:none"></div>
<div class="a" style="left:708px;top:477px;width:502px;height:25px;border-radius:4px 4px 0 0;background:linear-gradient(#a0a0a0 0,#a0a0a0 1px,#6e6e6e 3px,#747474 50%,#7c7c7c 100%);border-top:1px solid #3a3a3a;border-left:1px solid #2a2a2a;border-right:1px solid #2a2a2a"></div>
<svg class="a" style="left:712px;top:481px" width="18" height="18" viewBox="0 0 18 18"><defs><radialGradient id="g1" cx="40%" cy="30%" r="75%"><stop offset="0" stop-color="#8cc8ff"/><stop offset="0.45" stop-color="#1f6fc8"/><stop offset="1" stop-color="#083a7a"/></radialGradient></defs><circle cx="9" cy="9" r="7.8" fill="url(#g1)" stroke="#c4c8cc" stroke-width="1.4"/><path d="M5.2 5 L7 5 L7 12 L5.2 12 Z" fill="#e6f2ff"/><path d="M8.3 5.5 L12.8 5.5 L12.8 10.5 L8.3 10.5 Z" fill="none" stroke="#e6f2ff" stroke-width="1.2"/><circle cx="9" cy="13.5" r="0.8" fill="#cfe4ff"/></svg>
<div class="a" style="left:1187px;top:481px;width:18px;height:18px;border:1px solid #555;border-radius:4px;background:#888"></div>
<svg class="a" style="left:1192px;top:486px" width="8" height="8" viewBox="0 0 9 9"><path d="M1.5 1.5 L7.5 7.5 M7.5 1.5 L1.5 7.5" stroke="#1e2838" stroke-width="1.8"/></svg>
<div class="a" style="left:713px;top:502px;width:486px;height:60px;border:1px solid #cfd1d3;border-radius:3px"></div>
<div class="t" style="left:721px;top:518px;font-size:10.5px;color:#000">Prefixo</div>
<div class="t" style="left:773px;top:518px;font-size:10.5px;color:#000">Número</div>
<div class="t" style="left:1161px;top:516px;font-size:10.5px;color:#000">Loja</div>
<div class="a" style="left:721px;top:532px;width:42px;height:24px;border:1px solid #c6c9cc;border-radius:3px;background:#fff"></div>
<div class="a" style="left:773px;top:532px;width:360px;height:24px;border:1px solid #c6c9cc;border-radius:3px;background:#fff"></div>
<div class="t" style="left:779px;top:540px;font-size:10.4px;color:#000">NF0004</div>
<svg class="a" style="left:1137px;top:537px" width="15" height="14" viewBox="0 0 15 14"><circle cx="5.5" cy="5.5" r="4" fill="none" stroke="#3c4a5c" stroke-width="1.8"/><path d="M8.5 8.5 L13 12.8" stroke="#3c4a5c" stroke-width="2.4" stroke-linecap="round"/></svg>
<div class="a" style="left:1161px;top:532px;width:30px;height:24px;border:1px solid #c6c9cc;border-radius:3px;background:#fff"></div>
<div class="t" style="left:1167px;top:539px;font-size:10.4px;color:#000">01</div>
<div class="a" style="left:713px;top:564px;width:486px;height:62px;border:1px solid #cfd1d3;border-radius:3px"></div>
<div class="t" style="left:721px;top:580px;font-size:10.5px;color:#000">Saldo</div>
<div class="t" style="left:829px;top:580px;font-size:10.5px;color:#000">Mo</div>
<div class="a" style="left:721px;top:596px;width:84px;height:24px;border:1px solid #cdd0d4;border-radius:3px;background:#e8ebf2"></div>
<div class="t" style="right:1121px;top:603px;font-size:10.5px;color:#000">1.000,00</div>
<div class="a" style="left:805px;top:596px;width:14px;height:24px;border:1px solid #555;border-radius:3px;background:#fff"></div>
<div class="t" style="left:809px;top:602px;font-size:10.5px;color:#888">?</div>
<div class="a" style="left:829px;top:596px;width:30px;height:24px;border:1px solid #cdd0d4;border-radius:3px;background:#e8ebf2"></div>
<div class="a" style="left:1078px;top:602px;width:4px;height:1px;background:#9aa4b0"></div>
<div class="a" style="left:1079px;top:604px;width:3px;height:3px;background:#8a94a0"></div>
<div class="a" style="left:1079px;top:608px;width:3px;height:3px;background:#8a94a0"></div>
<div class="a" style="left:1079px;top:612px;width:3px;height:3px;background:#8a94a0"></div>
<div class="a" style="left:719px;top:638px;width:100px;height:36px;border:1px solid #d8dadc;border-radius:3px;background:linear-gradient(#fbfbfb,#cdd0d2)"></div>
<div class="t" style="left:734px;top:651px;font-size:11px;color:#444">Taxas Moedas</div>
<div class="a" style="left:1033px;top:638px;width:52px;height:22px;border:1px solid #d8dadc;border-radius:3px;background:linear-gradient(#fafafa,#e6e6e6)"></div>
<div class="a" style="left:1089px;top:638px;width:52px;height:22px;border:1px solid #d8dadc;border-radius:3px;background:linear-gradient(#fafafa,#e6e6e6)"></div>
<div class="t" style="left:1089px;width:52px;text-align:center;top:644px;font-size:10.6px;color:#444">Ok</div>
<div class="a" style="left:1145px;top:638px;width:52px;height:22px;border:1px solid #d8dadc;border-radius:3px;background:linear-gradient(#fafafa,#e6e6e6)"></div>
<div class="t" style="left:1145px;width:52px;text-align:center;top:644px;font-size:10.6px;color:#444">Cancelar</div>
<div class="a" style="left:840px;top:477px;width:238px;height:237px;background:#fff;border:1px solid #2c5590;border-top:none"></div>
<div class="a" style="left:840px;top:454px;width:238px;height:25px;border-radius:4px 4px 0 0;background:linear-gradient(#8a9ac0 0,#3d5290 6%,#4a5f9c 50%,#5d72a8 100%);border-top:1px solid #2a2a3a;border-left:1px solid #2a2a2a;border-right:1px solid #2a2a2a"></div>
<svg class="a" style="left:844px;top:458px" width="18" height="18" viewBox="0 0 18 18"><defs><radialGradient id="g2" cx="40%" cy="30%" r="75%"><stop offset="0" stop-color="#8cc8ff"/><stop offset="0.45" stop-color="#1f6fc8"/><stop offset="1" stop-color="#083a7a"/></radialGradient></defs><circle cx="9" cy="9" r="7.8" fill="url(#g2)" stroke="#c4c8cc" stroke-width="1.4"/><path d="M5.2 5 L7 5 L7 12 L5.2 12 Z" fill="#e6f2ff"/><path d="M8.3 5.5 L12.8 5.5 L12.8 10.5 L8.3 10.5 Z" fill="none" stroke="#e6f2ff" stroke-width="1.2"/><circle cx="9" cy="13.5" r="0.8" fill="#cfe4ff"/></svg>
<div class="t" style="left:840px;width:238px;text-align:center;top:461px;font-size:11.4px;font-weight:bold;color:#fff;text-shadow:1px 1px 1px #1a1a2a">Taxas Moedas</div>
<div class="a" style="left:1056px;top:459px;width:17px;height:17px;border:1px solid #2e3e6a;border-radius:3px;background:#566aa0"></div>
<svg class="a" style="left:1060px;top:463px" width="9" height="9" viewBox="0 0 9 9"><path d="M1.5 1.5 L7.5 7.5 M7.5 1.5 L1.5 7.5" stroke="#1e2838" stroke-width="1.8"/></svg>
<div class="a" style="left:851px;top:489px;width:210px;height:192px;border:1px solid #cfd1d3;border-radius:3px"></div>
<div class="t" style="left:861px;top:507px;font-size:10.5px;color:#000">DOLAR</div>
<div class="a" style="left:961px;top:499px;width:64px;height:23px;border:1px solid #c6c9cc;border-radius:3px;background:#fff"></div>
<div class="a" style="left:971px;top:504px;width:48px;height:15px;background:#3a9cb5"></div>
<div class="a" style="left:971px;top:504px;width:1px;height:15px;background:#000"></div>
<div class="t" style="right:901px;top:506px;font-size:10.5px;color:#fff">2,8000</div>
<div class="a" style="left:1028px;top:502px;width:18px;height:18px;border:1px dotted #000"></div>
<svg class="a" style="left:1027px;top:505px" width="19" height="14" viewBox="0 0 19 14"><path d="M0.3 7 L7.3 0.3 L16 2.6 L17.6 5.3 L7.5 12.6 L0.3 10.6 Z" fill="#8b8176"/><path d="M0.3 7 L7.3 0.3 L16.2 2.8 L9 9.8 Z" fill="#a89a8a"/><path d="M0.3 7 L9 9.8 L7.5 12.6 L0.3 10.6 Z" fill="#d2d2d8"/><path d="M9 9.8 L16.2 2.8 L17.6 5.3 L7.5 12.6 Z" fill="#6f655a"/><path d="M8.3 3.4 L11.2 1.5 L15.2 2.7 L12.3 4.8 Z" fill="#a6e872"/><circle cx="10" cy="7.4" r="0.8" fill="#d85a48"/></svg>
<div class="t" style="left:861px;top:531px;font-size:10.5px;color:#000">UFIR</div>
<div class="a" style="left:961px;top:523px;width:64px;height:23px;border:1px solid #c6c9cc;border-radius:3px;background:#fff"></div>
<div class="t" style="right:901px;top:530px;font-size:10.5px;color:#000">3,0000</div>
<svg class="a" style="left:1027px;top:529px" width="19" height="14" viewBox="0 0 19 14"><path d="M0.3 7 L7.3 0.3 L16 2.6 L17.6 5.3 L7.5 12.6 L0.3 10.6 Z" fill="#8b8176"/><path d="M0.3 7 L7.3 0.3 L16.2 2.8 L9 9.8 Z" fill="#a89a8a"/><path d="M0.3 7 L9 9.8 L7.5 12.6 L0.3 10.6 Z" fill="#d2d2d8"/><path d="M9 9.8 L16.2 2.8 L17.6 5.3 L7.5 12.6 Z" fill="#6f655a"/><path d="M8.3 3.4 L11.2 1.5 L15.2 2.7 L12.3 4.8 Z" fill="#a6e872"/><circle cx="10" cy="7.4" r="0.8" fill="#d85a48"/></svg>
<div class="t" style="left:861px;top:555px;font-size:10.5px;color:#000">Euro</div>
<div class="a" style="left:961px;top:547px;width:64px;height:23px;border:1px solid #c6c9cc;border-radius:3px;background:#fff"></div>
<div class="t" style="right:901px;top:554px;font-size:10.5px;color:#000">0,0000</div>
<svg class="a" style="left:1027px;top:553px" width="19" height="14" viewBox="0 0 19 14"><path d="M0.3 7 L7.3 0.3 L16 2.6 L17.6 5.3 L7.5 12.6 L0.3 10.6 Z" fill="#8b8176"/><path d="M0.3 7 L7.3 0.3 L16.2 2.8 L9 9.8 Z" fill="#a89a8a"/><path d="M0.3 7 L9 9.8 L7.5 12.6 L0.3 10.6 Z" fill="#d2d2d8"/><path d="M9 9.8 L16.2 2.8 L17.6 5.3 L7.5 12.6 Z" fill="#6f655a"/><path d="M8.3 3.4 L11.2 1.5 L15.2 2.7 L12.3 4.8 Z" fill="#a6e872"/><circle cx="10" cy="7.4" r="0.8" fill="#d85a48"/></svg>
<div class="t" style="left:861px;top:579px;font-size:10.5px;color:#000">IENE</div>
<div class="a" style="left:961px;top:571px;width:64px;height:23px;border:1px solid #c6c9cc;border-radius:3px;background:#fff"></div>
<div class="t" style="right:901px;top:578px;font-size:10.5px;color:#000">0,0000</div>
<svg class="a" style="left:1027px;top:577px" width="19" height="14" viewBox="0 0 19 14"><path d="M0.3 7 L7.3 0.3 L16 2.6 L17.6 5.3 L7.5 12.6 L0.3 10.6 Z" fill="#8b8176"/><path d="M0.3 7 L7.3 0.3 L16.2 2.8 L9 9.8 Z" fill="#a89a8a"/><path d="M0.3 7 L9 9.8 L7.5 12.6 L0.3 10.6 Z" fill="#d2d2d8"/><path d="M9 9.8 L16.2 2.8 L17.6 5.3 L7.5 12.6 Z" fill="#6f655a"/><path d="M8.3 3.4 L11.2 1.5 L15.2 2.7 L12.3 4.8 Z" fill="#a6e872"/><circle cx="10" cy="7.4" r="0.8" fill="#d85a48"/></svg>
<div class="t" style="left:861px;top:603px;font-size:10.5px;color:#000">BLOQUEADA</div>
<div class="a" style="left:961px;top:595px;width:64px;height:23px;border:1px solid #c6c9cc;border-radius:3px;background:#fff"></div>
<div class="t" style="right:901px;top:602px;font-size:10.5px;color:#000">0,0000</div>
<svg class="a" style="left:1027px;top:601px" width="19" height="14" viewBox="0 0 19 14"><path d="M0.3 7 L7.3 0.3 L16 2.6 L17.6 5.3 L7.5 12.6 L0.3 10.6 Z" fill="#8b8176"/><path d="M0.3 7 L7.3 0.3 L16.2 2.8 L9 9.8 Z" fill="#a89a8a"/><path d="M0.3 7 L9 9.8 L7.5 12.6 L0.3 10.6 Z" fill="#d2d2d8"/><path d="M9 9.8 L16.2 2.8 L17.6 5.3 L7.5 12.6 Z" fill="#6f655a"/><path d="M8.3 3.4 L11.2 1.5 L15.2 2.7 L12.3 4.8 Z" fill="#a6e872"/><circle cx="10" cy="7.4" r="0.8" fill="#d85a48"/></svg>
<div class="t" style="left:861px;top:627px;font-size:10.5px;color:#000">LIBRA</div>
<div class="a" style="left:961px;top:619px;width:64px;height:23px;border:1px solid #c6c9cc;border-radius:3px;background:#fff"></div>
<div class="t" style="right:901px;top:626px;font-size:10.5px;color:#000">0,0000</div>
<svg class="a" style="left:1027px;top:625px" width="19" height="14" viewBox="0 0 19 14"><path d="M0.3 7 L7.3 0.3 L16 2.6 L17.6 5.3 L7.5 12.6 L0.3 10.6 Z" fill="#8b8176"/><path d="M0.3 7 L7.3 0.3 L16.2 2.8 L9 9.8 Z" fill="#a89a8a"/><path d="M0.3 7 L9 9.8 L7.5 12.6 L0.3 10.6 Z" fill="#d2d2d8"/><path d="M9 9.8 L16.2 2.8 L17.6 5.3 L7.5 12.6 Z" fill="#6f655a"/><path d="M8.3 3.4 L11.2 1.5 L15.2 2.7 L12.3 4.8 Z" fill="#a6e872"/><circle cx="10" cy="7.4" r="0.8" fill="#d85a48"/></svg>
<div class="a" style="left:1001px;top:691px;width:52px;height:22px;border:1px solid #d8dadc;border-radius:3px;background:linear-gradient(#fafafa,#e6e6e6)"></div>
<div class="t" style="left:1001px;width:52px;text-align:center;top:697px;font-size:10.6px;color:#444">Ok</div>
<div class="a" style="left:1918px;top:21px;width:2px;height:1059px;background:#0b7190"></div>
<div class="a" style="left:0;top:1078px;width:1920px;height:2px;background:#0b7190"></div>
<div class="a" style="left:0;top:21px;width:1px;height:1059px;background:#cfdde3"></div>
<div class="a" style="left:1px;top:0px;width:1px;height:1080px;background:#2b3b42"></div></body></html>
